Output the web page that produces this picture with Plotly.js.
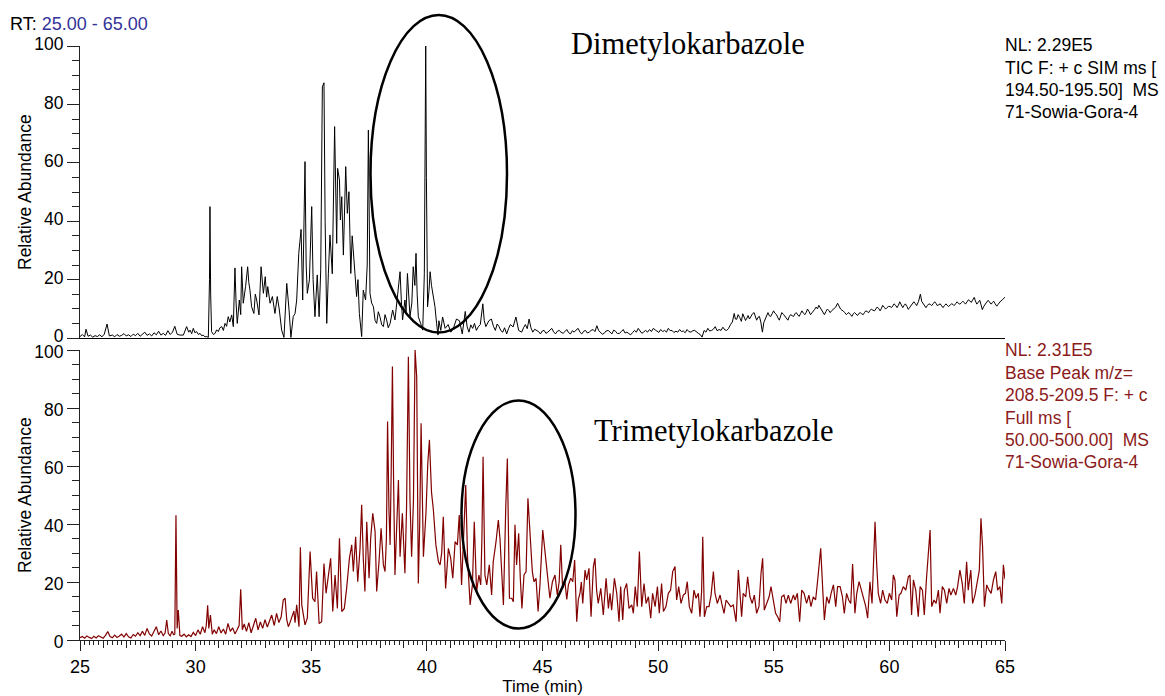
<!DOCTYPE html>
<html>
<head>
<meta charset="utf-8">
<script src="https://cdn.plot.ly/plotly-3.0.1.min.js"></script>
<style>html,body{margin:0;padding:0;background:#fff;}#chart{width:1165px;height:696px;}</style>
</head>
<body>
<div id="chart"></div>
<script>
// Top chromatogram: Dimetylokarbazole (TIC SIM 194.5-195.5), [time (min), relative abundance]
const topScan = [
[25.0,0.5],[25.1,1.2],[25.2,0.4],[25.26,3.0],[25.35,0.6],[25.45,1.0],[25.55,0.3],[25.65,0.8],[25.75,0.5],[25.85,1.1],[25.95,0.4],[26.05,1.3],[26.17,4.8],[26.27,0.7],[26.4,1.0],[26.5,0.4],[26.6,1.2],[26.7,0.6],[26.8,0.9],[26.9,1.5],[27.0,0.7],[27.1,1.1],[27.2,0.5],[27.3,1.3],[27.4,0.8],[27.5,1.6],[27.6,0.6],[27.7,1.2],[27.8,2.0],[27.9,0.9],[28.0,1.4],[28.1,0.7],[28.2,1.8],[28.3,1.1],[28.4,2.3],[28.5,1.0],[28.6,1.6],[28.7,0.9],[28.8,2.5],[28.9,1.2],[29.0,2.0],[29.1,4.0],[29.2,1.3],
[29.32,1.0],[29.47,1.0],[29.61,3.9],[29.7,2.0],[29.76,2.7],[29.83,1.5],[29.9,3.3],[29.97,1.8],[30.04,2.2],[30.12,1.2],[30.19,1.6],[30.26,0.8],[30.33,1.0],[30.4,0.4],[30.48,0.5],[30.55,0.2],[30.6,20],[30.62,45],[30.65,15],[30.69,2.2],[30.77,1.2],[30.84,1.6],[30.91,2.8],[30.98,2.2],[31.05,3.5],[31.13,3.9],[31.2,2.6],[31.27,5.0],[31.34,4.0],[31.41,7.3],[31.48,5.5],[31.56,7.9],[31.63,3.9],[31.7,24],[31.75,12],[31.8,5.0],[31.89,13],[31.95,8],[31.99,24.4],[32.06,11.9],[32.16,17.6],[32.25,24.4],[32.3,19],[32.35,16.4],[32.42,10.7],[32.52,8.4],[32.58,15],[32.64,13],[32.74,7.9],[32.83,24.4],[32.93,15.3],[33.01,21],[33.07,14],[33.12,17.6],[33.22,11.9],[33.32,14.2],[33.43,8.4],[33.53,14.2],[33.62,9.6],[33.72,2.7],[33.82,0.2],[33.88,8],[33.94,18.7],[34.04,9.6],[34.12,0.2],[34.22,7.3],[34.3,8.4],[34.37,13],[34.46,29],[34.56,37.2],[34.63,13],[34.73,60.4],[34.78,25],[34.83,15.3],[34.92,19.9],[35.02,45],[35.08,20],[35.16,7.3],[35.26,21.6],[35.34,7.3],[35.41,23.3],[35.48,86],[35.55,87.4],[35.6,40],[35.67,5.0],[35.74,22],[35.81,35.3],[35.91,22],[36.01,72.4],[36.1,32.4],[36.14,58.1],[36.22,54.1],[36.26,40.4],[36.32,48.4],[36.39,28.4],[36.49,58.7],[36.56,42.7],[36.63,50.1],[36.71,22.1],[36.77,35],[36.82,30.4],[36.89,22.1],[36.96,14.2],[37.02,20],[37.08,8.4],[37.18,0.5],[37.25,16.4],[37.35,13],[37.42,25],[37.47,71.2],[37.54,15.3],[37.61,12],[37.69,10.7],[37.76,6],[37.83,5.0],[37.9,9],[37.97,7.3],[38.05,4.5],[38.12,3.9],[38.19,8],[38.26,6.2],[38.33,3.5],[38.41,5.0],[38.46,7],[38.52,9.6],[38.62,6.2],[38.72,13],[38.78,18],[38.84,22.7],[38.9,12],[38.95,6.2],[39.05,13],[39.1,9],[39.16,22.1],[39.22,14],[39.27,7.3],[39.35,12],[39.41,24.4],[39.48,18],[39.53,29],[39.58,15],[39.63,7.3],[39.73,5.0],[39.82,2.7],[39.89,22],[39.93,60],[39.95,100],[39.98,55],[40.03,10.7],[40.09,16],[40.14,22.7],[40.2,18],[40.28,14.2],[40.35,10.7],[40.42,5.0],[40.48,1.0],
[40.52,5.9],[40.6,2.6],[40.68,7.2],[40.79,3.3],[40.92,4.6],[41.04,2.0],[41.17,3.9],[41.28,6.5],[41.41,5.9],[41.53,1.4],[41.66,9.1],[41.74,3.9],[41.82,2.0],[41.9,4.5],[41.98,3.3],[42.06,5],[42.14,2.6],[42.22,3.8],[42.31,4.6],[42.42,11.7],[42.48,6],[42.55,3.9],[42.68,5.9],[42.79,6.5],[42.88,4],[42.96,2.6],[43.04,4.8],[43.12,3.9],[43.2,2.5],[43.28,2.0],[43.36,3.5],[43.45,1.4],[43.53,3.2],[43.61,4.6],[43.73,3.8],[43.85,7.2],[43.97,2.6],[44.10,2.0],[44.18,3.5],[44.26,4.6],[44.34,3.2],[44.42,6.5],[44.5,3.5],[44.58,2.0],[44.66,3.0],[44.75,2.6],[44.83,2.2],[44.91,1.4],[44.99,2.4],[45.07,2.6],[45.15,1.6],[45.23,2.0],[45.31,2.8],[45.4,3.3],[45.48,2.1],[45.56,1.4],[45.64,2.3],[45.72,2.6],[45.8,2.0],[45.89,1.6],[45.97,2.2],[46.05,2.9],[46.13,1.8],[46.21,1.4],[46.29,2.5],[46.37,2.0],[46.45,2.7],[46.54,3.3],[46.62,2.0],[46.70,1.4],[46.78,2.3],[46.86,2.6],[46.94,1.7],[47.02,2.0],[47.1,2.6],[47.19,2.9],[47.27,2.2],[47.35,4.2],[47.43,2.5],[47.51,2.0],[47.59,1.3],[47.67,1.6],[47.75,2.4],[47.84,2.6],[47.92,1.9],[48.0,1.4],[48.08,2.7],[48.16,2.3],[48.24,1.5],[48.33,1.6],[48.41,2.2],[48.49,2.9],[48.57,1.7],[48.65,2.0],[48.73,1.5],[48.81,1.1],[48.9,1.9],[48.98,2.6],[49.06,2.0],[49.14,3.3],[49.22,2.4],[49.3,1.6],[49.38,2.1],[49.46,2.6],[49.54,2.0],[49.63,2.9],[49.71,2.2],[49.79,3.3],[49.87,2.8],[49.95,2.4],[50.03,1.9],[50.11,2.9],[50.2,2.2],[50.28,2.6],[50.36,2.0],[50.44,3.3],[50.52,2.5],[50.6,2.6],[50.68,1.9],[50.77,2.3],[50.85,2.0],[50.93,2.9],[51.01,2.2],[51.09,2.4],[51.17,1.8],[51.25,2.9],[51.33,2.2],[51.42,2.0],[51.5,2.5],[51.58,2.6],[51.66,2.0],[51.74,1.6],[51.82,1.2],[51.9,0.3],[51.99,2.6],[52.07,2.0],[52.15,3.3],[52.23,2.4],[52.31,2.6],[52.39,3.0],[52.47,3.9],[52.55,2.5],[52.64,2.9],[52.72,2.6],[52.8,3.7],[52.88,2.8],[52.96,2.6],[53.04,3.2],[53.13,4.6],[53.21,5.5],
[53.29,8.4],[53.34,6.5],[53.40,6.4],[53.46,8],[53.53,7],[53.6,5.7],[53.66,8.3],[53.72,7.3],[53.78,6],[53.84,6.8],[53.89,7.7],[53.95,6.5],
[54.02,7.4],[54.08,8.3],[54.15,8.7],[54.2,7.5],[54.26,6.1],[54.32,7.1],[54.38,7.4],[54.44,5.5],[54.51,2.0],[54.57,5.3],[54.64,6.7],[54.7,7.9],[54.75,8.7],[54.81,7.6],[54.87,7.4],[54.93,8.3],[54.99,9.3],[55.05,8.5],[55.12,8.0],[55.18,6.9],[55.24,6.1],[55.3,7.6],[55.35,8.7],[55.42,8.1],[55.48,7.4],[55.55,6.7],[55.61,6.1],[55.67,7.3],[55.73,8.0],[55.8,7.6],[55.86,7.4],[55.92,8.3],[55.97,8.7],[56.04,7.9],[56.10,7.4],[56.16,8.4],[56.22,9.3],[56.28,8.5],[56.35,8.0],[56.4,8.7],[56.46,9.9],[56.53,9.0],[56.59,8.0],[56.65,8.6],[56.70,9.3],[56.77,9.8],[56.83,10.6],[56.89,10.0],[56.95,11.2],[57.02,10.1],[57.08,9.3],[57.13,8.5],[57.19,8.0],[57.26,9.1],[57.32,9.9],[57.38,9.4],[57.44,8.7],[57.5,9.3],[57.57,9.9],[57.62,10.3],[57.68,10.6],[57.76,11.9],[57.83,10.7],[57.89,9.9],[57.95,9.5],[58.0,9.3],[58.07,8.7],[58.14,8.0],[58.2,8.5],[58.25,8.7],[58.31,8.1],[58.38,7.4],[58.44,8.3],[58.49,8.7],[58.56,8.2],[58.62,7.7],[58.68,8.4],[58.74,8.7],[58.8,8.3],[58.87,8.0],[58.93,8.8],[58.98,9.3],[59.05,9.0],[59.11,8.7],[59.16,9.4],[59.22,9.9],[59.29,9.5],[59.36,9.3],[59.42,10.0],[59.47,10.6],[59.54,10.1],[59.60,9.3],[59.66,10.2],[59.71,11.2],[59.78,10.5],[59.84,9.9],[59.9,10.4],[59.96,10.8],
[60.03,10.8],[60.09,10.4],[60.15,11.0],[60.2,11.7],[60.27,11.2],[60.33,10.4],[60.39,11.2],[60.45,12.4],[60.52,11.3],[60.58,10.4],[60.63,11.1],[60.69,11.7],[60.76,10.8],[60.82,9.8],[60.88,10.5],[60.93,11.1],[61.0,11.8],[61.06,12.4],[61.12,11.8],[61.18,11.1],[61.26,12.5],[61.34,15],[61.4,12.5],[61.47,11.7],[61.53,11.0],[61.58,10.4],[61.65,11.2],[61.71,11.7],[61.77,11.5],[61.83,11.1],[61.9,11.8],[61.96,12.4],[62.02,11.8],[62.07,11.1],[62.14,11.4],[62.2,11.7],[62.26,11.0],[62.32,10.4],[62.38,11.1],[62.45,11.7],[62.5,11.2],[62.56,10.8],[62.63,11.3],[62.69,11.7],[62.75,11.5],[62.8,11.1],[62.87,11.8],[62.93,12.4],[62.99,11.8],
[63.05,11.6],[63.12,12.1],[63.18,12.6],[63.24,12.1],[63.29,11.6],[63.36,12.4],[63.42,13.1],[63.48,12.7],[63.54,12.2],[63.6,13.0],[63.67,13.9],[63.72,12.7],[63.78,11.6],[63.85,12.3],[63.91,12.9],[63.96,11.5],[64.02,9.7],[64.08,10.8],[64.15,11.8],[64.21,12.3],[64.27,12.9],[64.33,12.2],[64.40,11.6],[64.45,12.1],[64.51,12.6],[64.57,11.8],[64.64,10.9],[64.7,11.5],[64.76,12.2],[64.82,12.7],[64.89,13.1],[64.95,13.5],[65.0,14]
];

// Bottom chromatogram: Trimetylokarbazole (Base Peak m/z 208.5-209.5), [time (min), relative abundance]
const bottomScan = [
[25.0,0.8],[25.1,1.2],[25.2,0.6],[25.3,1.4],[25.4,0.9],[25.5,0.5],[25.6,1.3],[25.7,0.7],[25.8,1.5],[25.9,1.0],[26.0,0.6],[26.1,1.6],[26.2,2.9],[26.3,1.2],[26.4,0.8],[26.5,1.7],[26.6,0.9],[26.7,1.4],[26.8,2.0],[26.9,1.0],[27.0,2.2],[27.1,1.1],[27.2,0.7],[27.3,1.9],[27.4,1.3],[27.5,2.5],[27.6,1.5],[27.7,3.0],[27.8,1.6],[27.9,4.0],[28.0,2.1],[28.1,1.4],[28.2,3.3],[28.3,4.6],[28.4,1.8],[28.5,3.1],[28.6,1.5],[28.68,2.4],[28.75,6.9],[28.82,2.2],[28.9,1.4],[28.98,3.0],[29.05,1.8],[29.1,2.0],[29.15,43],[29.2,4],[29.25,10.3],[29.32,1.5],[29.4,1.3],[29.5,2.0],[29.6,1.1],[29.7,1.8],[29.8,1.2],[29.9,2.6],[30.0,1.5],[30.1,3.5],[30.2,2.0],[30.3,4.6],[30.4,2.5],[30.46,5],[30.52,12],[30.57,4],[30.64,8.6],[30.72,2.0],[30.8,3.5],[30.9,2.2],[31.0,4.6],[31.1,2.4],[31.2,3.8],[31.3,2.0],[31.4,5.7],[31.5,3.0],[31.6,4.2],[31.7,2.1],[31.8,3.6],[31.88,5.0],[31.95,17.5],[32.02,3.5],[32.1,5.5],[32.2,3.0],[32.3,6.0],[32.4,2.5],[32.5,5.0],[32.6,7.5],[32.7,3.5],[32.8,6.2],[32.9,4.0],[33.0,7.0],[33.1,4.5],[33.2,6.5],[33.29,8.6],[33.4,5.0],[33.5,9.2],[33.6,6.0],[33.7,8.0],[33.79,13.8],[33.87,14.4],[33.94,7],[34.01,4.6],[34.08,6],[34.15,8.0],[34.25,10],[34.3,6],[34.37,12.1],[34.47,4.6],[34.53,32],[34.59,12.1],[34.66,8],[34.73,5.2],[34.83,7.5],[34.95,30.5],[35.06,14.4],[35.16,13.2],[35.23,23.6],[35.34,5.7],[35.45,6.3],[35.55,26.4],[35.64,16.1],[35.74,22.4],[35.84,28.2],[35.93,9.8],[36.03,22.4],[36.13,10.9],[36.22,35.1],[36.32,9.8],[36.43,10.9],[36.53,17.8],[36.65,28.2],[36.75,32.8],[36.82,23.6],[36.92,35.6],[37.01,20.1],[37.11,31.6],[37.18,46.6],[37.25,28.2],[37.32,16.7],[37.40,40.8],[37.50,21.3],[37.57,35.1],[37.66,43.7],[37.76,37.4],[37.83,16.7],[37.93,27.0],[38.02,38.5],[38.12,25.9],[38.19,23.6],[38.25,35],[38.30,75.3],[38.36,45],[38.41,32.8],[38.46,60],[38.51,94.3],[38.56,55],[38.62,22.4],[38.69,37.9],[38.77,55.2],[38.84,28.7],[38.94,43.7],[39.05,23],[39.12,45],[39.2,97.7],[39.27,48.3],[39.34,28.7],[39.42,48.3],[39.49,100],[39.56,90.8],[39.63,19.5],[39.69,40],[39.75,74.7],[39.85,28.7],[39.96,43.7],[40.04,61],[40.11,69],[40.2,51],[40.28,45],[40.39,32.8],[40.5,27],[40.57,25.9],[40.64,30],[40.71,42.5],[40.81,17.8],[40.93,31.6],[41.03,28.2],[41.12,21.3],[41.22,33.9],[41.32,32.8],[41.40,43.1],[41.50,19.0],[41.58,33.9],[41.68,53.4],[41.76,28.2],[41.87,12.1],[41.97,19.0],[42.05,40.8],[42.15,16.7],[42.25,22.4],[42.33,19.0],[42.38,35],[42.43,63.2],[42.51,22.4],[42.59,19.0],[42.70,25.9],[42.80,15.5],[42.87,27.0],[42.99,33.9],[43.09,41.4],[43.16,35.1],[43.24,21.3],[43.31,12.1],[43.41,45.4],[43.48,62.6],[43.57,14.4],[43.67,14.4],[43.74,13.2],[43.81,39.7],[43.88,25.9],[43.97,36.8],[44.04,21.3],[44.11,10.9],[44.20,22.4],[44.29,23.6],[44.37,48.9],[44.46,35.1],[44.56,23.6],[44.63,20.1],[44.72,21.3],[44.81,9.8],[44.89,19.0],[45.01,37.9],[45.11,29.9],[45.21,22.4],[45.32,14.4],[45.43,20.1],[45.54,22.4],[45.64,15.5],[45.72,20],[45.79,32.8],[45.87,17.8],[45.97,20.1],[46.05,14],[46.12,19.0],[46.22,21.3],[46.31,20.1],[46.39,27.6],[46.48,6.3],[46.55,14],[46.62,16.1],[46.68,20],[46.74,12.6],[46.84,24.1],[46.91,20.7],[47.01,24.7],[47.10,8.0],[47.2,25.3],[47.27,28.2],[47.34,17.2],
[47.41,12.6],[47.52,17.8],[47.63,8.6],[47.75,21.3],[47.85,10.9],[47.92,16.1],[47.99,10.3],[48.11,21.3],[48.21,16.1],[48.31,6.3],[48.38,18.4],[48.47,6.9],[48.54,17.2],[48.64,19.5],[48.74,10.9],[48.86,12.1],[48.93,9.2],[49.01,18.4],[49.10,11.5],[49.19,30.5],[49.29,11.5],[49.39,19.5],[49.48,12.6],[49.58,14.9],[49.68,7.5],[49.76,16.1],[49.87,11.5],[49.97,18.4],[50.05,9.2],[50.15,19.5],[50.23,9.8],[50.34,11.5],[50.44,16.1],[50.54,17.2],[50.63,23.6],[50.73,25.3],[50.80,13.8],[50.89,18.4],[50.99,12.6],[51.09,15.5],[51.18,16.1],[51.26,20.1],[51.35,11.5],[51.45,9.2],[51.55,17.2],[51.64,14.4],[51.74,16.1],[51.81,8.0],[51.88,16.7],[51.93,35.6],[52.0,8.0],[52.10,11.5],[52.20,11.5],[52.29,15.5],[52.39,23.6],[52.46,16.1],[52.56,12.6],[52.68,15.5],[52.75,12.6],[52.85,9.2],[52.94,13.8],[53.04,12.6],[53.14,11.5],[53.25,12.1],[53.37,6.3],[53.47,24.1],[53.54,13.8],[53.61,8.0],[53.68,16.1],[53.79,14.9],[53.87,21.8],[53.97,14.9],[54.07,12.6],[54.16,15.5],[54.26,9.2],[54.36,11.5],[54.45,23.0],[54.52,28.2],[54.59,10.3],[54.69,12.6],[54.80,14.9],[54.88,18.4],[54.98,13.8],[55.08,9.2],[55.17,8.0],[55.26,6.3],[55.34,14.9],[55.44,15.5],[55.53,12.6],[55.63,15.5],[55.73,12.6],[55.85,15.5],[55.92,13.8],[56.02,16.1],[56.12,6.3],[56.21,17.2],[56.31,16.1],[56.42,12.6],[56.52,15.5],[56.61,11.5],[56.71,14.9],[56.81,13.8],[56.90,20.7],[56.97,26.4],[57.03,31.6],[57.12,17.2],[57.19,6.9],[57.29,14.9],[57.39,12.6],[57.48,16.1],[57.58,19.0],[57.68,11.5],[57.76,18.4],[57.87,18.4],[57.97,14.9],[58.05,9.2],[58.15,16.1],[58.24,13.8],[58.33,12.6],[58.41,26.2],[58.51,9.2],[58.59,16.1],[58.69,20.1],[58.77,17.8],[58.88,14.9],[58.98,11.5],[59.06,7.5],[59.16,20.1],[59.25,12.6],[59.31,23.6],[59.38,40.8],[59.45,26.4],[59.52,16.1],[59.62,12.6],[59.71,17.2],[59.81,13.8],[59.91,12.6],[60.0,16.1],[60.10,13.8],[60.17,22.4],[60.24,20.7],[60.32,8.0],[60.42,15.5],[60.50,16.1],[60.60,18.4],[60.71,17.2],[60.82,21.8],[60.89,22.4],[60.96,8.6],[61.04,20.7],[61.14,17.2],[61.25,8.0],[61.33,18.4],[61.43,17.2],[61.51,8.6],[61.61,21.8],[61.69,31.6],[61.76,37.9],[61.83,11.5],[61.93,13.8],[62.02,12.6],[62.12,17.2],[62.19,9.2],[62.29,18.4],[62.38,17.2],[62.48,12.6],[62.58,17.8],[62.66,15.5],[62.77,17.8],[62.87,15.5],[62.95,18.4],[63.05,24.1],[63.15,19.5],[63.24,12.6],[63.34,27.0],[63.41,17.2],[63.52,24.1],[63.60,12.6],[63.70,15.5],[63.80,20.7],[63.89,24.1],[63.96,42.0],[64.03,32.2],[64.11,11.5],[64.21,19.0],[64.31,17.2],[64.40,16.1],[64.50,20.7],[64.60,23.6],[64.68,17.2],[64.78,18.4],[64.86,12.6],[64.93,25.9],[65.0,21]
];

const timeRange = [25, 65];
const abundTicks = [0, 20, 40, 60, 80, 100];
const timeTicks = [25, 30, 35, 40, 45, 50, 55, 60, 65];
const yTitle = 'Relative Abundance';
const topInfo = ['NL: 2.29E5', 'TIC F: + c SIM ms [', '194.50-195.50]  MS', '71-Sowia-Gora-4'];
const bottomInfo = ['NL: 2.31E5', 'Base Peak m/z=', '208.5-209.5 F: + c', 'Full ms [', '50.00-500.00]  MS', '71-Sowia-Gora-4'];
const topCompound = 'Dimetylokarbazole';
const bottomCompound = 'Trimetylokarbazole';

const W = 1165, H = 696, ML = 80, MR = 160, MT = 46, MB = 56;
const PW = W - ML - MR, PH = H - MT - MB;
const px = v => (v - ML) / PW;          // pixel x -> paper x
const py = v => (H - MB - v) / PH;      // pixel y -> paper y

const SANS = 'Liberation Sans, Arial, sans-serif';
const SERIF = 'Liberation Serif, Times New Roman, serif';
const RED = '#8B1A1A';

const traces = [
  {x: topScan.map(p => p[0]), y: topScan.map(p => p[1]), xaxis: 'x2', yaxis: 'y',
   type: 'scatter', mode: 'lines', line: {color: '#000', width: 1}, hoverinfo: 'skip'},
  {x: bottomScan.map(p => p[0]), y: bottomScan.map(p => p[1]), xaxis: 'x', yaxis: 'y2',
   type: 'scatter', mode: 'lines', line: {color: '#820000', width: 1.2}, hoverinfo: 'skip'},
  {x: [], y: [], xaxis: 'x3', yaxis: 'y2', type: 'scatter', mode: 'lines', hoverinfo: 'skip'}
];

const yAxisBase = {
  range: [0, 100], tickvals: abundTicks, ticks: 'outside', ticklen: 12, tickwidth: 1, tickcolor: '#222',
  showline: true, linecolor: '#222', linewidth: 1, showgrid: false, zeroline: false,
  minor: {dtick: 5, tick0: 0, ticks: 'outside', ticklen: 7, tickwidth: 1, tickcolor: '#222', showgrid: false},
  tickfont: {family: SANS, size: 17.5, color: '#000'},
  fixedrange: true
};

const annotations = [
  {xref: 'paper', yref: 'paper', x: px(8), y: py(24), xanchor: 'left', yanchor: 'middle', showarrow: false,
   text: '<span style="color:#000">RT:</span> <span style="color:#333399">25.00 - 65.00</span>',
   font: {family: SANS, size: 18}},
  {xref: 'paper', yref: 'paper', x: px(687.5), y: py(44), xanchor: 'center', yanchor: 'middle', showarrow: false,
   text: topCompound, font: {family: SERIF, size: 30.5, color: '#000'}},
  {xref: 'paper', yref: 'paper', x: px(713), y: py(431), xanchor: 'center', yanchor: 'middle', showarrow: false,
   text: bottomCompound, font: {family: SERIF, size: 30.5, color: '#000'}},
  {xref: 'paper', yref: 'paper', x: px(25), y: py(192), xanchor: 'center', yanchor: 'middle', showarrow: false,
   textangle: -90, text: yTitle, font: {family: SANS, size: 17.5, color: '#000'}},
  {xref: 'paper', yref: 'paper', x: px(25), y: py(495), xanchor: 'center', yanchor: 'middle', showarrow: false,
   textangle: -90, text: yTitle, font: {family: SANS, size: 17.5, color: '#000'}}
];
topInfo.forEach((t, i) => annotations.push({xref: 'paper', yref: 'paper', x: px(1003), y: py(45 + i * 22.5),
  xanchor: 'left', yanchor: 'middle', showarrow: false, text: t, font: {family: SANS, size: 17.5, color: '#000'}}));
bottomInfo.forEach((t, i) => annotations.push({xref: 'paper', yref: 'paper', x: px(1003), y: py(350 + i * 22.5),
  xanchor: 'left', yanchor: 'middle', showarrow: false, text: t, font: {family: SANS, size: 17.5, color: RED}}));

const shapes = [
  {type: 'circle', xref: 'paper', yref: 'paper', x0: px(370.5), x1: px(507), y0: py(332.5), y1: py(15),
   line: {color: '#000', width: 2.5}, fillcolor: 'rgba(0,0,0,0)'},
  {type: 'circle', xref: 'paper', yref: 'paper', x0: px(461.5), x1: px(575.5), y0: py(628.5), y1: py(400.5),
   line: {color: '#000', width: 2.5}, fillcolor: 'rgba(0,0,0,0)'}
];

const layout = {
  width: W, height: H, margin: {l: ML, r: MR, t: MT, b: MB, pad: 0},
  paper_bgcolor: '#fff', plot_bgcolor: '#fff', showlegend: false,
  font: {family: SANS, size: 18, color: '#000'},
  xaxis: {domain: [0, 1], anchor: 'y2', range: timeRange, tickvals: timeTicks, ticks: 'outside', ticklen: 10,
    tickwidth: 1, tickcolor: '#222', showline: true, linecolor: '#222', linewidth: 1, showgrid: false, zeroline: false,
    minor: {dtick: 0.2, tick0: 25, ticks: 'outside', ticklen: 4, tickwidth: 1, tickcolor: '#222', showgrid: false},
    tickfont: {family: SANS, size: 18, color: '#000'},
    title: {text: 'Time (min)', font: {family: SANS, size: 17, color: '#000'}, standoff: 6}, fixedrange: true},
  xaxis2: {domain: [0, 1], anchor: 'y', range: timeRange, showticklabels: false, ticks: '', showline: true,
    linecolor: '#000', linewidth: 1, showgrid: false, zeroline: false, fixedrange: true},
  xaxis3: {overlaying: 'x', anchor: 'y2', range: timeRange, dtick: 1, tick0: 25, ticks: 'outside', ticklen: 7,
    tickwidth: 1, tickcolor: '#222', showticklabels: false, showline: false, showgrid: false, zeroline: false, fixedrange: true},
  yaxis: Object.assign({}, yAxisBase, {domain: [py(338), 1], anchor: 'x2', ticklabelshift: -2}),
  yaxis2: Object.assign({}, yAxisBase, {domain: [0, py(350)], anchor: 'x', ticklabelshift: 2}),
  annotations: annotations,
  shapes: shapes
};

Plotly.newPlot('chart', traces, layout, {displayModeBar: false, staticPlot: true});
</script>
</body>
</html>
